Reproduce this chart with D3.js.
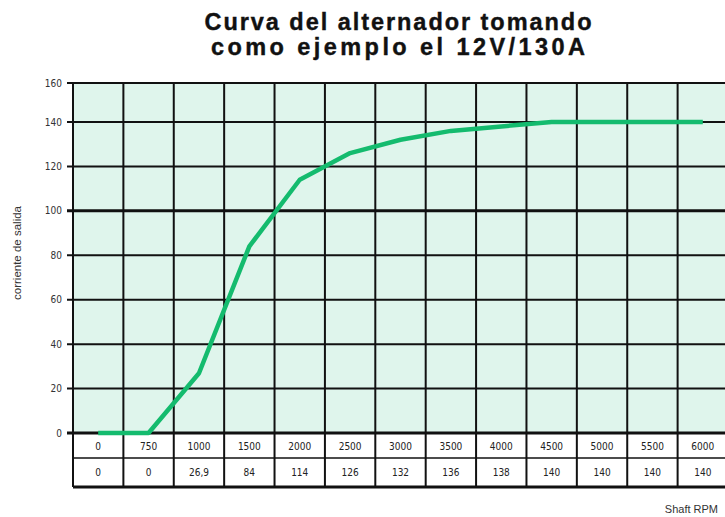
<!DOCTYPE html>
<html><head><meta charset="utf-8">
<script src="https://cdn.jsdelivr.net/npm/d3@7"></script>
<style>body{margin:0;background:#fff}svg{display:block}</style>
</head><body>
<svg id="chart" width="725" height="517"></svg>
<script>
const rpmLabels = ["0","750","1000","1500","2000","2500","3000","3500","4000","4500","5000","5500","6000"];
const currentLabels = ["0","0","26,9","84","114","126","132","136","138","140","140","140","140"];
const currentValues = [0,0,26.9,84,114,126,132,136,138,140,140,140,140];
const yTicks = [0,20,40,60,80,100,120,140,160];
const titleLines = ["Curva del alternador tomando","como ejemplo el 12V/130A"];

(function(){
const svg = d3.select("#chart");
const plotLeft = 73, plotRight = 728, plotTop = 83, zeroY = 433;
const row1 = 458, row2 = 487;

const x = d3.scaleBand().domain(rpmLabels).range([plotLeft, plotRight]).padding(0);
const y = d3.scaleLinear().domain([0,140,160]).range([zeroY,122,plotTop]);

// title
svg.selectAll("text.title").data(titleLines).enter().append("text")
  .attr("class","title")
  .attr("x",398).attr("y",(d,i)=>30+i*25)
  .attr("text-anchor","middle")
  .attr("font-family","Liberation Sans, Arial, sans-serif")
  .attr("font-weight","bold").attr("font-size",23.5)
  .attr("textLength",(d,i)=>i===0?387:374).attr("lengthAdjust","spacing")
  .attr("stroke","#111").attr("stroke-width",0.4)
  .attr("fill","#111").text(d=>d);

// plot background
svg.append("rect").attr("x",plotLeft).attr("y",plotTop)
  .attr("width",plotRight-plotLeft).attr("height",zeroY-plotTop).attr("fill","#dff5ec");

// horizontal grid lines
svg.selectAll("line.hg").data(yTicks).enter().append("line")
  .attr("x1",plotLeft-6).attr("x2",plotRight)
  .attr("y1",d=>y(d)).attr("y2",d=>y(d))
  .attr("stroke","#111").attr("stroke-width",d=>(d===0||d===100)?3:2);

// vertical grid lines (boundaries)
const bounds = rpmLabels.map(r=>x(r)).concat([plotRight]);
svg.selectAll("line.vg").data(bounds).enter().append("line")
  .attr("x1",d=>d).attr("x2",d=>d)
  .attr("y1",plotTop).attr("y2",row2)
  .attr("stroke","#111").attr("stroke-width",2);

// table row lines
svg.append("line").attr("x1",plotLeft).attr("x2",plotRight).attr("y1",row1).attr("y2",row1)
  .attr("stroke","#111").attr("stroke-width",1.5);
svg.append("line").attr("x1",plotLeft).attr("x2",plotRight).attr("y1",row2).attr("y2",row2)
  .attr("stroke","#111").attr("stroke-width",3);

// y tick labels
svg.selectAll("text.yt").data(yTicks).enter().append("text")
  .attr("x",62).attr("y",d=>y(d)+3.5)
  .attr("text-anchor","end")
  .attr("font-family","Liberation Sans Narrow, DejaVu Sans Condensed, sans-serif")
  .attr("font-size",10).attr("fill","#333").text(d=>d);

// y axis label
svg.append("text").attr("transform","translate(21,253) rotate(-90)")
  .attr("text-anchor","middle")
  .attr("font-family","Liberation Sans, Arial, sans-serif")
  .attr("font-size",11.5).attr("fill","#333").text("corriente de salida");

// line
const pts = rpmLabels.map((r,i)=>[x(r)+x.bandwidth()/2, y(currentValues[i])]);
svg.append("path").datum(pts)
  .attr("d",d3.line())
  .attr("fill","none").attr("stroke","#14bb6e").attr("stroke-width",4.5)
  .attr("stroke-linejoin","round");

// table text
svg.selectAll("text.r1").data(rpmLabels).enter().append("text")
  .attr("x",d=>x(d)+x.bandwidth()/2).attr("y",450)
  .attr("text-anchor","middle")
  .attr("font-family","Liberation Sans Narrow, DejaVu Sans Condensed, sans-serif")
  .attr("font-size",10).attr("fill","#222").text(d=>d);
svg.selectAll("text.r2").data(currentLabels).enter().append("text")
  .attr("x",(d,i)=>x(rpmLabels[i])+x.bandwidth()/2).attr("y",476)
  .attr("text-anchor","middle")
  .attr("font-family","Liberation Sans Narrow, DejaVu Sans Condensed, sans-serif")
  .attr("font-size",10).attr("fill","#222").text(d=>d);

// x label
svg.append("text").attr("x",718).attr("y",513)
  .attr("text-anchor","end")
  .attr("font-family","Liberation Sans, Arial, sans-serif")
  .attr("font-size",11).attr("fill","#333").text("Shaft RPM");
})();
</script>
</body></html>
